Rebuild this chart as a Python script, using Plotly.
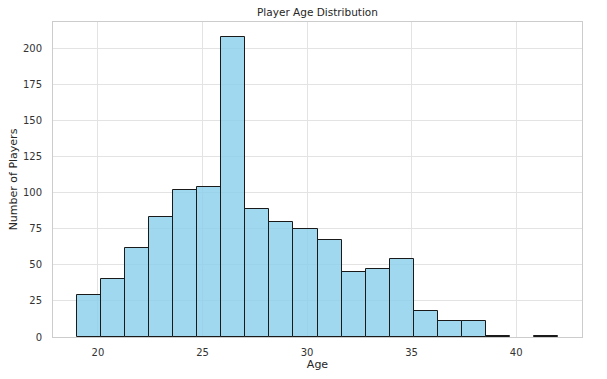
import plotly.graph_objects as go

# Histogram data (20 bins from 19 to 42)
bin_start = 19.0
bin_width = 1.15
counts = [29, 40, 62, 83, 102, 104, 208, 89, 80, 75, 67, 45, 47, 54, 18, 11, 11, 1, 0, 1]
x_ticks = [20, 25, 30, 35, 40]
y_ticks = [0, 25, 50, 75, 100, 125, 150, 175, 200]

centers = [bin_start + bin_width * (i + 0.5) for i in range(len(counts))]
# empty bins draw nothing (no outline at zero)
plot_counts = [c if c > 0 else None for c in counts]

fig = go.Figure()
fig.add_trace(go.Bar(
    x=centers,
    y=plot_counts,
    width=[bin_width] * len(counts),
    marker=dict(color="rgba(135,206,235,0.8)", line=dict(color="#1a1a1a", width=1)),
    hoverinfo="x+y",
))

font_family = "DejaVu Sans, sans-serif"
fig.update_layout(
    width=607, height=379,
    margin=dict(l=53, r=25, t=22, b=42, autoexpand=False),
    paper_bgcolor="white",
    plot_bgcolor="white",
    bargap=0,
    showlegend=False,
    font=dict(family=font_family, color="#333333", size=10),
    title=dict(text="Player Age Distribution", x=0.5, xref="paper", xanchor="center",
               y=0.968, yref="container", yanchor="middle", automargin=False,
               font=dict(size=10.5, color="#262626", family=font_family)),
    xaxis=dict(
        range=[17.85, 43.15],
        tickvals=x_ticks,
        ticktext=[str(v) for v in x_ticks],
        showgrid=True, gridcolor="#e3e3e3", gridwidth=1,
        zeroline=False, automargin=False,
        showline=True, linecolor="#cccccc", linewidth=1, mirror=True,
        ticks="", ticklabelstandoff=6,
        title=dict(text="Age", font=dict(size=11, color="#262626"), standoff=3),
        tickfont=dict(size=10, color="#333333"),
    ),
    yaxis=dict(
        range=[0, 218.4],
        tickvals=y_ticks,
        showgrid=True, gridcolor="#e3e3e3", gridwidth=1,
        zeroline=False, automargin=False,
        showline=True, linecolor="#cccccc", linewidth=1, mirror=True,
        ticks="", ticklabelstandoff=8,
        title=dict(text="Number of Players", font=dict(size=11, color="#262626"), standoff=3),
        tickfont=dict(size=10, color="#333333"),
    ),
)

fig.write_html("out.html", config={"displayModeBar": False},
               post_script="document.body.style.margin='0';document.body.style.overflow='hidden';")
